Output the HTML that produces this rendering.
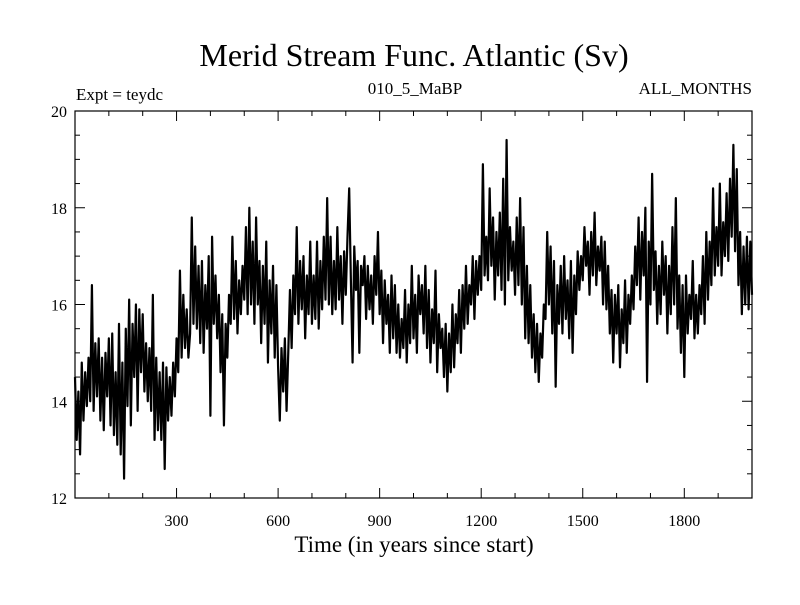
<!DOCTYPE html>
<html><head><meta charset="utf-8"><style>
body{margin:0;background:#fff}
svg text{font-family:"Liberation Serif",serif;fill:#000}
</style></head><body>
<svg id="chart" width="800" height="600" xmlns="http://www.w3.org/2000/svg">
<rect width="800" height="600" fill="#fff"/>
<text x="414" y="66" font-size="32" text-anchor="middle">Merid Stream Func. Atlantic (Sv)</text>
<text x="76" y="100" font-size="17">Expt = teydc</text>
<text x="415" y="94" font-size="17" text-anchor="middle">010_5_MaBP</text>
<text x="752" y="94" font-size="17" text-anchor="end">ALL_MONTHS</text>
<text x="414" y="552" font-size="23" text-anchor="middle">Time (in years since start)</text>
<g id="ticks"></g>
<path id="series" fill="none" stroke="#000" stroke-width="2.2" stroke-linejoin="round"/>
<rect x="75" y="111" width="677" height="387" fill="none" stroke="#000" stroke-width="1.2"/>
</svg>
<script>
const yearStep = 5;
const xTicks = [300, 600, 900, 1200, 1500, 1800];
const yTicks = [12, 14, 16, 18, 20];
const values = [
14.5,13.2,14.2,12.9,14.8,13.6,14.6,13.9,14.9,14.0,
16.4,13.8,15.2,14.1,15.3,13.6,14.9,13.4,15.0,14.1,
15.3,13.5,15.4,13.3,14.6,13.1,15.6,12.9,14.8,12.4,
15.5,13.9,16.1,13.5,15.6,14.5,16.0,13.8,15.9,14.6,
15.8,14.2,15.2,14.0,15.1,13.8,16.2,13.2,14.9,13.4,
14.6,13.2,14.8,12.6,14.7,13.6,14.5,13.7,14.8,14.1,
15.3,14.6,16.7,14.9,16.2,15.1,15.9,14.9,15.4,17.8,
15.6,17.2,15.5,16.8,15.2,16.9,15.0,16.4,15.5,17.0,
13.7,17.4,15.6,16.6,15.3,16.2,14.6,15.8,13.5,15.6,
14.9,16.2,15.6,17.4,15.7,16.9,15.4,16.5,15.8,16.8,
16.1,17.6,15.8,18.0,16.0,17.3,15.6,17.8,16.0,16.9,
15.2,16.8,15.6,17.3,14.8,16.5,15.4,16.8,14.9,16.4,
14.7,13.6,15.1,14.2,15.3,13.8,15.0,16.3,15.1,16.6,
15.8,17.6,15.6,16.9,15.9,17.0,15.3,16.6,15.8,17.3,
15.6,16.6,15.7,17.3,15.5,16.9,15.9,17.4,16.1,18.2,
16.0,17.4,15.8,16.9,15.9,17.6,16.1,17.0,15.6,17.1,
16.2,17.4,18.4,16.5,14.8,17.2,16.3,16.9,15.0,16.8,
16.4,17.0,15.7,16.8,15.9,16.6,15.6,17.0,16.2,17.5,
15.8,16.7,15.2,16.5,15.6,16.2,15.0,16.6,15.3,16.4,
15.0,16.0,14.9,15.7,15.1,16.3,14.8,16.0,15.2,16.8,
15.3,16.2,15.0,16.6,15.8,16.4,15.4,16.8,15.1,16.3,
14.8,15.9,15.2,16.7,14.6,15.8,15.1,15.5,14.5,15.6,
14.2,15.4,14.6,16.0,14.7,15.8,15.2,16.3,15.0,16.4,
15.5,16.8,15.6,16.4,16.0,17.0,15.7,16.9,16.2,17.0,
16.3,18.9,16.6,17.4,16.5,18.4,16.8,17.8,16.1,17.5,
16.6,17.9,16.3,18.6,16.0,19.4,16.5,17.6,16.7,17.3,
16.2,17.8,16.4,18.2,16.0,17.6,15.3,16.8,15.2,16.4,
14.9,15.8,14.6,15.6,14.4,15.4,14.9,16.0,15.7,17.5,
16.0,17.2,15.4,16.9,14.3,16.4,15.6,16.8,15.4,17.0,
15.7,16.5,15.3,16.9,15.0,16.6,15.8,17.1,16.3,17.0,
16.5,17.6,16.8,17.3,16.2,17.5,16.6,17.9,16.4,17.2,
16.7,17.4,16.0,17.3,15.9,16.8,15.4,16.3,14.8,16.2,
15.4,16.4,14.7,15.9,15.2,16.5,15.0,16.2,15.6,16.6,
15.9,17.2,16.4,17.8,16.1,17.5,16.6,18.0,14.4,17.3,
16.0,18.7,16.3,17.1,15.6,16.8,15.8,17.3,16.2,17.0,
15.4,16.8,15.8,17.6,16.0,18.2,15.5,16.6,15.0,16.4,
14.5,16.6,15.4,16.2,15.7,16.9,15.3,16.2,15.4,16.4,
15.8,17.0,15.6,17.5,16.1,17.3,16.4,18.4,16.6,17.6,
16.8,18.5,16.6,17.7,17.0,18.3,16.9,18.6,17.4,19.3,
17.1,18.8,16.4,17.5,15.8,17.2,16.0,17.4,15.9,17.3,16.2
];
const X0=75, X1=752, Y0=498, Y1=111, XMIN=0, XMAX=2000, YMIN=12, YMAX=20;
const sx = v => X0 + (v - XMIN) / (XMAX - XMIN) * (X1 - X0);
const sy = v => Y0 - (v - YMIN) / (YMAX - YMIN) * (Y0 - Y1);
const NS = "http://www.w3.org/2000/svg";
const g = document.getElementById('ticks');
function line(x1,y1,x2,y2,name){
  const l=document.createElementNS(NS,'line');
  l.setAttribute('x1',x1);l.setAttribute('y1',y1);l.setAttribute('x2',x2);l.setAttribute('y2',y2);
  l.setAttribute('stroke','#000');l.setAttribute('stroke-width','1');
  
  
  g.appendChild(l);
}
function label(x,y,t,anchor,name){
  const e=document.createElementNS(NS,'text');
  e.setAttribute('x',x);e.setAttribute('y',y);e.setAttribute('font-size','16');e.setAttribute('text-anchor',anchor);
  e.textContent=t;
  
  
  g.appendChild(e);
}
for(let t=100;t<XMAX;t+=100){
  const major = t%300===0, len = major?10:5, x=sx(t);
  line(x,Y0,x,Y0-len,'x-tick');
  line(x,Y1,x,Y1+len,'x-tick-top');
}
xTicks.forEach(t=>label(sx(t),526,String(t),'middle','x-tick-label'));
for(let v=YMIN+0.5;v<YMAX;v+=0.5){
  const major = v%2===0, len = major?10:5, y=sy(v);
  line(X0,y,X0+len,y,'y-tick');
  line(X1,y,X1-len,y,'y-tick-right');
}
yTicks.forEach(v=>label(67,sy(v)+6,String(v),'end','y-tick-label'));
let d='';
values.forEach((v,i)=>{ d += (i?'L':'M') + sx(i*yearStep).toFixed(2) + ' ' + sy(v).toFixed(2); });
document.getElementById('series').setAttribute('d', d);
</script>
</body></html>
